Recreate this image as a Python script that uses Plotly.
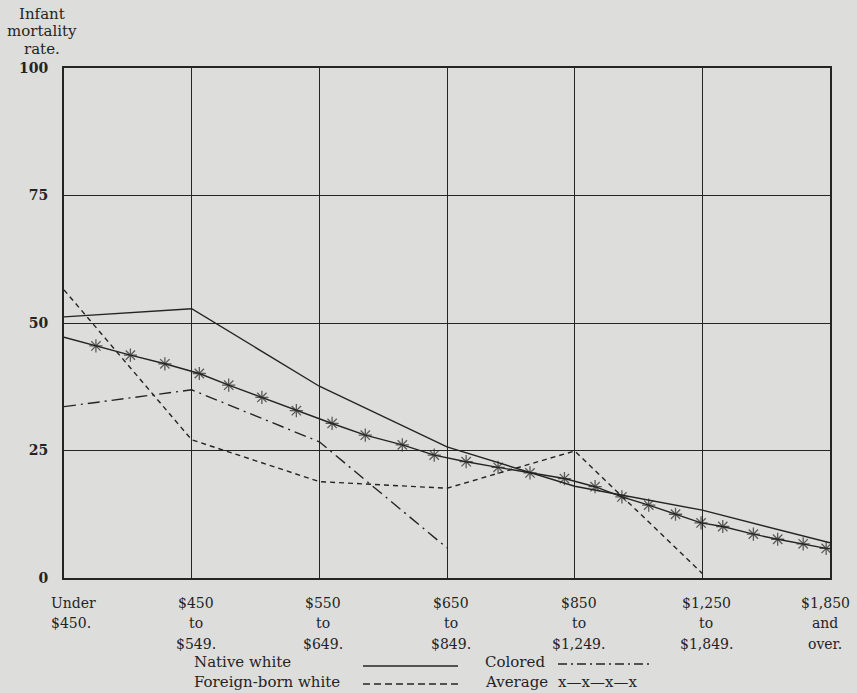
import plotly.graph_objects as go

# Categories (x positions 0..6 correspond to these income classes)
categories = ["Under<br>$450.", "$450<br>to<br>$549.", "$550<br>to<br>$649.", "$650<br>to<br>$849.",
              "$850<br>to<br>$1,249.", "$1,250<br>to<br>$1,849.", "$1,850<br>and<br>over."]
cat_pos = [0, 1, 2, 3, 4, 5, 6]

native_white = [51.2, 52.8, 37.6, 25.7, 18.0, 13.3, 6.9]
foreign_x = [0, 1, 2, 3, 4, 5]
foreign_white = [56.5, 27.1, 18.9, 17.6, 24.9, 0.9]
colored_x = [0, 1, 2, 3]
colored = [33.6, 36.9, 26.7, 5.9]

# Average: start of line plus the x-marks
average_x = [0.0, 0.25, 0.52, 0.79, 1.06, 1.29, 1.55, 1.82, 2.10, 2.36, 2.65, 2.90, 3.15, 3.40,
             3.65, 3.92, 4.16, 4.37, 4.58, 4.79, 4.99, 5.16, 5.40, 5.59, 5.79, 5.97]
average = [47.2, 45.5, 43.7, 42.0, 40.1, 37.8, 35.4, 32.8, 30.3, 28.0, 26.1, 24.1, 22.8, 21.7,
           20.6, 19.5, 17.9, 15.9, 14.3, 12.5, 10.8, 10.1, 8.6, 7.6, 6.7, 5.8]
average_end_x = [5.97, 6.0]
average_end = [5.8, 5.7]

y_ticks = [0, 25, 50, 75, 100]
y_title_lines = ["Infant", "mortality", "rate."]

INK = "#242424"
BG = "#dddddb"
SERIF = "DejaVu Serif, Liberation Serif, serif"

W, H = 857, 693
L, R, T, B = 64, 27, 68, 115
PW, PH = W - L - R, H - T - B


def px(x):
    return (x - L) / PW


def py(y):
    return (H - B - y) / PH


fig = go.Figure()
fig.add_trace(go.Scatter(x=cat_pos, y=native_white, mode="lines",
                         line=dict(color=INK, width=1.4), name="Native white"))
fig.add_trace(go.Scatter(x=foreign_x, y=foreign_white, mode="lines",
                         line=dict(color=INK, width=1.4, dash="5px,4px"), name="Foreign-born white"))
fig.add_trace(go.Scatter(x=colored_x, y=colored, mode="lines",
                         line=dict(color=INK, width=1.4, dash="12px,5px,2px,5px"), name="Colored"))
sizes = [0] + [11] * (len(average) - 1)
fig.add_trace(go.Scatter(x=average_x, y=average, mode="lines+markers",
                         line=dict(color=INK, width=1.4),
                         marker=dict(symbol="asterisk-open", size=sizes, color=INK,
                                     line=dict(color=INK, width=1.3)),
                         name="Average"))
fig.add_trace(go.Scatter(x=average_end_x, y=average_end, mode="lines",
                         line=dict(color=INK, width=1.4), showlegend=False))

annotations = []
tick_font = dict(family=SERIF, size=14, color=INK)
row_y = [603, 623, 644]
for i, (p, lab) in enumerate(zip(cat_pos, categories)):
    for line, yy in zip(lab.split("<br>"), row_y):
        if i == 0:
            annotations.append(dict(x=px(49), y=py(yy), xref="paper", yref="paper", text=line,
                                    showarrow=False, yanchor="middle", xanchor="left",
                                    font=tick_font))
        else:
            annotations.append(dict(x=p, y=py(yy), xref="x", yref="paper", text=line,
                                    showarrow=False, yanchor="middle", xanchor="center",
                                    xshift=4 if i < 6 else -5, font=tick_font))

for line, yy in zip(y_title_lines, [14, 31, 49]):
    annotations.append(dict(x=px(42), y=py(yy), xref="paper", yref="paper", text=line,
                            showarrow=False, xanchor="center", yanchor="middle",
                            font=dict(family=SERIF, size=15, color=INK)))

# Legend block (text + samples)
leg_font = dict(family=SERIF, size=15, color=INK)
legend_items = [
    ("Native white", 192, 662), ("Foreign-born white", 192, 682),
    ("Colored", 483, 662), ("Average", 483, 682),
    ("x—x—x—x", 556, 682),
]
for txt, xx, yy in legend_items:
    annotations.append(dict(x=px(xx), y=py(yy), xref="paper", yref="paper", text=txt,
                            showarrow=False, xanchor="left", yanchor="middle",
                            font=leg_font))

fig.update_layout(
    width=W, height=H,
    margin=dict(l=L, r=R, t=T, b=B),
    paper_bgcolor=BG, plot_bgcolor=BG,
    showlegend=False,
    annotations=annotations,
    xaxis=dict(range=[0, 6], showgrid=True, gridcolor=INK, gridwidth=1.4, zeroline=False,
               showline=True, linecolor=INK, linewidth=1.9, mirror=True,
               tickvals=cat_pos, showticklabels=False, ticks=""),
    yaxis=dict(range=[0, 100], tickvals=y_ticks, ticktext=["<b>%d</b>" % v for v in y_ticks],
               showgrid=True, gridcolor=INK, gridwidth=1.4, zeroline=False,
               showline=True, linecolor=INK, linewidth=1.9, mirror=True, ticks="",
               ticklabelstandoff=11,
               tickfont=dict(family=SERIF, size=14, color=INK)),
    shapes=[
        dict(type="line", xref="paper", yref="paper", x0=px(363), x1=px(458),
             y0=py(666), y1=py(666), line=dict(color=INK, width=1.4)),
        dict(type="line", xref="paper", yref="paper", x0=px(363), x1=px(458),
             y0=py(684), y1=py(684), line=dict(color=INK, width=1.4, dash="7px,4px")),
        dict(type="line", xref="paper", yref="paper", x0=px(558), x1=px(650),
             y0=py(664), y1=py(664), line=dict(color=INK, width=1.4, dash="9px,4px,2px,4px")),
    ],
)
fig.write_html("out.html", config={"displayModeBar": False},
               post_script="document.body.style.margin='0';")
